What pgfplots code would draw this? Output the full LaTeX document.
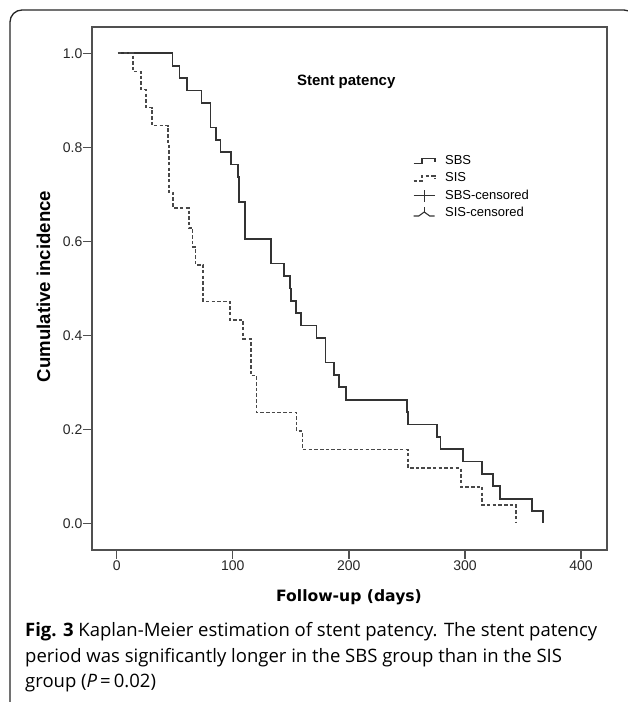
\documentclass[border=0pt]{standalone}
\usepackage{fontspec}
\setmainfont{Liberation Sans}
\newfontfamily\djv{DejaVu Sans}
\newfontfamily\capfont{Open Sans}
\usepackage{pgfplots}
\pgfplotsset{compat=1.18}
\definecolor{curveA}{HTML}{333333}
\definecolor{curveB}{HTML}{484848}
\definecolor{axcol}{HTML}{505050}

\pgfplotstableread{
day surv
1 1.0
48 0.9737
54 0.9474
60.5 0.9211
73 0.8947
80.7 0.8421
85.3 0.8158
89.5 0.7895
98.2 0.7632
104.2 0.7368
105.4 0.6842
110.5 0.6053
132.8 0.5526
144.4 0.5263
149.2 0.5
150 0.4737
154.3 0.4474
158.7 0.4211
172 0.3947
180 0.3421
187.4 0.3158
191.4 0.2895
197.4 0.2632
250 0.2368
250.8 0.2105
276 0.1842
279 0.1579
298.4 0.1316
315 0.1053
324 0.0789
330 0.0526
358 0.0263
367 0
}\sbs

\pgfplotstableread{
day surv
1 1.0
13.8 0.9615
21 0.9231
25.2 0.8846
30.4 0.8462
44.4 0.8077
45 0.7040
48.8 0.6710
62 0.6290
65.4 0.5880
67.8 0.5500
74.6 0.4720
97.5 0.4330
109 0.3930
115.4 0.3145
120.5 0.2360
155 0.1960
160 0.1570
251 0.1180
296.4 0.0780
315 0.0390
344 0.0
}\sis

\begin{document}
\begin{tikzpicture}[x=1pt,y=1pt]
\useasboundingbox (0,0) rectangle (627,702);
\draw[line width=1.3pt, color=black!85, rounded corners=12pt] (10,-10) -- (10,692) -- (636,692) -- (636,600);
\begin{axis}[
  at={(92pt,152pt)}, anchor=south west,
  scale only axis, width=515pt, height=523pt,
  xmin=-21.28, xmax=422.4, ymin=-0.0566, ymax=1.056,
  xtick={0,100,200,300,400},
  ytick={0,0.2,0.4,0.6,0.8,1.0},
  tick align=outside, tick pos=left,
  major tick length=9pt,
  axis line style={axcol, line width=1.5pt},
  every tick/.style={axcol, line width=1.3pt},
  tick label style={font=\fontsize{14}{16}\selectfont, text=black!85},
  /pgf/number format/assume math mode=true,
  yticklabel style={/pgf/number format/.cd, fixed, fixed zerofill, precision=1, /tikz/.cd, inner sep=0.5pt},
  xticklabel style={inner sep=1.2pt},
  legend style={at={(axis cs:255,0.786)}, anchor=north west, draw=none, fill=none,
    font=\fontsize{13}{15}\selectfont, inner sep=0pt, row sep=3.3pt,
    nodes={inner sep=0.5pt, text height=10pt, text depth=3pt},
    /tikz/every odd column/.append style={column sep=9pt}},
  legend cell align=left,
  legend image code/.code={\draw[#1] (0pt,-2.5pt) -- (8pt,-2.5pt) -- (8pt,2.7pt) -- (21pt,2.7pt) -- (21pt,-0.8pt);},
  clip=false,
]
\addplot[const plot, curveA, line width=1.7pt] table[x=day,y=surv] {\sbs};
\addlegendentry{SBS}
\addplot[const plot, curveB, line width=1.7pt, dash pattern=on 3.5pt off 2.2pt] table[x=day,y=surv] {\sis};
\addlegendentry{SIS}
\addlegendimage{curveA, line width=1pt, legend image code/.code={\draw[curveA, line width=1.1pt] (0pt,0pt) -- (21pt,0pt); \draw[curveA, line width=1.1pt] (10.5pt,-6pt) -- (10.5pt,6pt);}}
\addlegendentry{SBS-censored}
\addlegendimage{curveA, line width=1pt, legend image code/.code={\draw[curveA, line width=1.1pt] (0pt,-3pt) -- (5pt,-3pt) -- (10.5pt,1pt) -- (16pt,-3pt) -- (21pt,-3pt); \draw[curveA, line width=1.1pt] (10.5pt,1pt) -- (10.5pt,6pt);}}
\addlegendentry{SIS-censored}
\node[anchor=base, inner sep=0pt, font=\bfseries\fontsize{15}{17}\selectfont] at (axis cs:197.7,0.9326) {Stent patency};
\end{axis}
\node[anchor=base, inner sep=0pt, rotate=90] at (50,415.5) {\fontsize{18.6}{20}\selectfont\bfseries Cumulative incidence};
\node[anchor=base, inner sep=0pt] at (349,100.3) {\djv\fontsize{15.6}{18}\selectfont\bfseries Follow-up (days)};
\node[anchor=base west, inner sep=0pt] at (25,65) {\capfont\fontsize{18.5}{20}\selectfont\textbf{Fig. 3} Kaplan-Meier estimation of stent patency. The stent patency};
\node[anchor=base west, inner sep=0pt] at (25,39.5) {\capfont\fontsize{18.5}{20}\selectfont period was significantly longer in the SBS group than in the SIS};
\node[anchor=base west, inner sep=0pt] at (25,14.5) {\capfont\fontsize{18.5}{20}\selectfont group (\textit{P}\,=\,0.02)};
\end{tikzpicture}
\end{document}
